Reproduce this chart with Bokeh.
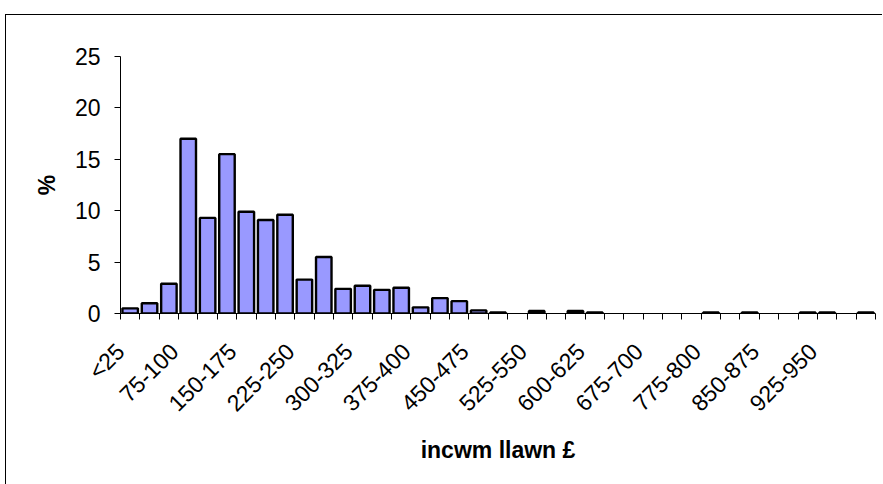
import math
from bokeh.plotting import figure
from bokeh.models import Range1d, FixedTicker, Spacer, ColumnDataSource, CustomJSTickFormatter
from bokeh.layouts import column, row
from bokeh.embed import file_html
from bokeh.resources import INLINE

categories = ["<25", "25-50", "50-75", "75-100", "100-125", "125-150", "150-175",
              "175-200", "200-225", "225-250", "250-275", "275-300", "300-325",
              "325-350", "350-375", "375-400", "400-425", "425-450", "450-475",
              "475-500", "500-525", "525-550", "550-575", "575-600", "600-625",
              "625-650", "650-675", "675-700", "700-725", "750-775", "775-800",
              "800-825", "825-850", "850-875", "875-900", "900-925", "925-950",
              "950-975", "975-1000"]
percent = [0.5, 1.0, 2.9, 17.0, 9.3, 15.5, 9.9, 9.1, 9.6, 3.3,
           5.5, 2.4, 2.7, 2.3, 2.5, 0.6, 1.5, 1.2, 0.3, 0.1,
           0.0, 0.25, 0.0, 0.25, 0.1, 0.0, 0.0, 0.0, 0.0, 0.0,
           0.1, 0.0, 0.1, 0.0, 0.0, 0.1, 0.1, 0.0, 0.1]
y_ticks = [0, 5, 10, 15, 20, 25]
x_title = "incwm llawn £"
y_title = "%"

FONT = "Liberation Sans"
FS = "23px"
n = len(categories)
idx = [i for i in range(n) if percent[i] > 0]
src = ColumnDataSource(dict(x=idx, top=[percent[i] for i in idx],
                            cat=[categories[i] for i in idx]))

W, H = 877, 470
p = figure(width=W, height=H, output_backend="svg", toolbar_location=None,
           x_range=Range1d(-0.5, n - 0.5), y_range=Range1d(0, 25),
           min_border_left=114, min_border_right=8,
           min_border_top=41, min_border_bottom=172)
p.vbar(x="x", top="top", width=0.8, source=src, fill_color="#9999FF",
       line_color="black", line_width=2.4)

p.xgrid.visible = False
p.ygrid.visible = False
p.outline_line_color = None
p.background_fill_color = "white"
p.border_fill_color = "white"

SHIFT = 0.72  # label anchor offset (in category widths) to match reference placement
lab_ticks = [max(i - SHIFT, -0.5) for i in range(0, n, 3)]
xt = FixedTicker(ticks=lab_ticks, minor_ticks=[i - 0.5 for i in range(n + 1)])
p.xaxis.ticker = xt
p.xaxis.formatter = CustomJSTickFormatter(
    args=dict(cats=categories, shift=SHIFT),
    code="return cats[Math.round(tick + shift)];")
p.xaxis.major_label_orientation = math.pi / 4
p.xaxis.major_tick_in = 0
p.xaxis.major_tick_out = 0
p.xaxis.minor_tick_in = 0
p.xaxis.minor_tick_out = 6
p.xaxis.minor_tick_line_color = "black"
p.xaxis.major_label_standoff = 28
p.xaxis.axis_label = x_title
p.xaxis.axis_label_text_font_style = "bold"
p.xaxis.axis_label_standoff = 8

p.yaxis.ticker = FixedTicker(ticks=y_ticks, minor_ticks=[])
p.yaxis.major_tick_in = 0
p.yaxis.major_tick_out = 6
p.yaxis.major_label_standoff = 14
p.yaxis.axis_label = y_title
p.yaxis.axis_label_text_font_style = "bold"
p.yaxis.axis_label_standoff = 12

for ax in (p.xaxis[0], p.yaxis[0]):
    ax.axis_line_color = "black"
    ax.major_tick_line_color = "black"
    ax.major_label_text_font = FONT
    ax.major_label_text_font_size = FS
    ax.major_label_text_color = "black"
    ax.axis_label_text_font = FONT
    ax.axis_label_text_font_size = FS
    ax.axis_label_text_color = "black"

p.styles = {"border-left": "1px solid black", "border-top": "1px solid black",
            "box-sizing": "border-box"}

layout = column(Spacer(height=14, width=W), row(Spacer(width=5, height=H), p))
open("out.html", "w").write(file_html(layout, INLINE))
